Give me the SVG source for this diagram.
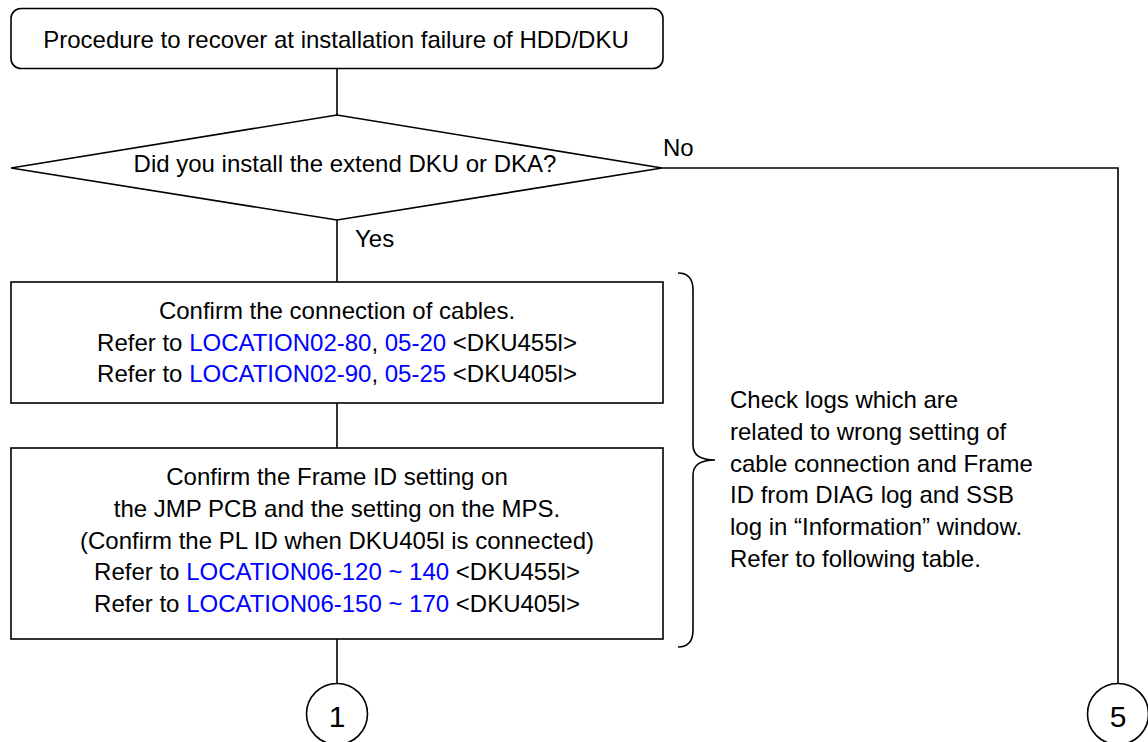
<svg xmlns="http://www.w3.org/2000/svg" width="1148" height="742" viewBox="0 0 1148 742">
<style>
.s{fill:#fff;stroke:#000;stroke-width:1.6}
.c{fill:none;stroke:#000;stroke-width:1.6}
text{font-family:"Liberation Sans",Arial,sans-serif;font-size:24px;fill:#000}
.m{text-anchor:middle}
.l{fill:#0000ff}
.n{font-size:30px}
</style>
<rect width="1148" height="742" fill="#fff"/>
<g id="connectors">
<line class="c" x1="337" y1="68" x2="337" y2="115"/>
<line class="c" x1="337" y1="220" x2="337" y2="282"/>
<line class="c" x1="337" y1="403" x2="337" y2="448"/>
<line class="c" x1="337" y1="639" x2="337" y2="683"/>
<polyline class="c" points="662,168 1118,168 1118,683"/>
<text x="355" y="247">Yes</text>
<text x="663" y="156">No</text>
</g>
<g id="start">
<rect class="s" x="11" y="8.5" width="652" height="60" rx="10"/>
<text class="m" x="336" y="48">Procedure to recover at installation failure of HDD/DKU</text>
</g>
<g id="decision">
<polygon class="s" points="11,168 337,115 662,168 337,220"/>
<text class="m" x="345" y="172">Did you install the extend DKU or DKA?</text>
</g>
<g id="cables">
<rect class="s" x="11" y="282" width="652" height="121"/>
<text class="m" x="337" y="319">Confirm the connection of cables.</text>
<text class="m" x="337" y="351">Refer to <tspan class="l">LOCATION02-80</tspan>, <tspan class="l">05-20</tspan> &lt;DKU455l&gt;</text>
<text class="m" x="337" y="382">Refer to <tspan class="l">LOCATION02-90</tspan>, <tspan class="l">05-25</tspan> &lt;DKU405l&gt;</text>
</g>
<g id="frameid">
<rect class="s" x="11" y="448" width="652" height="191"/>
<text class="m" x="337" y="485">Confirm the Frame ID setting on</text>
<text class="m" x="337" y="517">the JMP PCB and the setting on the MPS.</text>
<text class="m" x="337" y="549">(Confirm the PL ID when DKU405l is connected)</text>
<text class="m" x="337" y="580">Refer to <tspan class="l">LOCATION06-120 ~ 140</tspan> &lt;DKU455l&gt;</text>
<text class="m" x="337" y="612">Refer to <tspan class="l">LOCATION06-150 ~ 170</tspan> &lt;DKU405l&gt;</text>
</g>
<g id="note">
<path class="c" d="M678,273 Q693,273 693,290 L693,445 Q693,460 715,460 Q693,460 693,475 L693,630 Q693,647 678,647"/>
<text x="730" y="408">Check logs which are</text>
<text x="730" y="440">related to wrong setting of</text>
<text x="730" y="472">cable connection and Frame</text>
<text x="730" y="503">ID from DIAG log and SSB</text>
<text x="730" y="535">log in “Information” window.</text>
<text x="730" y="567">Refer to following table.</text>
</g>
<g id="conn1">
<circle class="s" cx="337" cy="714" r="30.5"/>
<text class="m n" x="337" y="727">1</text>
</g>
<g id="conn5">
<circle class="s" cx="1118" cy="714" r="30.5"/>
<text class="m n" x="1118" y="727">5</text>
</g>
</svg>
